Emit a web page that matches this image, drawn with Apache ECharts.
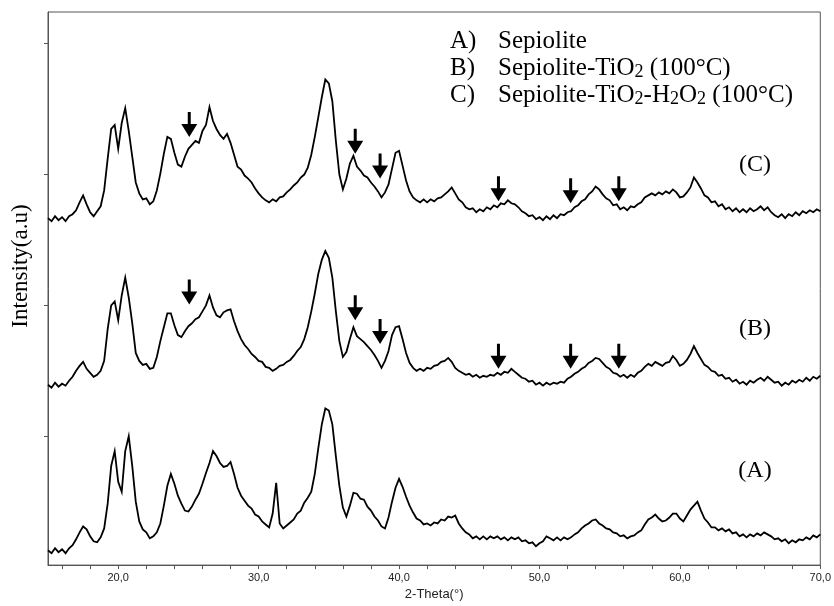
<!DOCTYPE html>
<html>
<head>
<meta charset="utf-8">
<script src="https://cdn.jsdelivr.net/npm/echarts@6/dist/echarts.min.js"></script>
<style>
  html, body { margin: 0; padding: 0; background: #fff; }
  #chart { width: 834px; height: 606px; }
</style>
</head>
<body>
<div id="chart"></div>
<script>
// 2θ scan positions (degrees)
const twoTheta = [
  15,15.25,15.5,15.75,16,16.25,16.5,16.75,
  17,17.25,17.5,17.75,18,18.25,18.5,18.75,
  19,19.25,19.5,19.75,20,20.25,20.5,20.75,
  21,21.25,21.5,21.75,22,22.25,22.5,22.75,
  23,23.25,23.5,23.75,24,24.25,24.5,24.75,
  25,25.25,25.5,25.75,26,26.25,26.5,26.75,
  27,27.25,27.5,27.75,28,28.25,28.5,28.75,
  29,29.25,29.5,29.75,30,30.25,30.5,30.75,
  31,31.25,31.5,31.75,32,32.25,32.5,32.75,
  33,33.25,33.5,33.75,34,34.25,34.5,34.75,
  35,35.25,35.5,35.75,36,36.25,36.5,36.75,
  37,37.25,37.5,37.75,38,38.25,38.5,38.75,
  39,39.25,39.5,39.75,40,40.25,40.5,40.75,
  41,41.25,41.5,41.75,42,42.25,42.5,42.75,
  43,43.25,43.5,43.75,44,44.25,44.5,44.75,
  45,45.25,45.5,45.75,46,46.25,46.5,46.75,
  47,47.25,47.5,47.75,48,48.25,48.5,48.75,
  49,49.25,49.5,49.75,50,50.25,50.5,50.75,
  51,51.25,51.5,51.75,52,52.25,52.5,52.75,
  53,53.25,53.5,53.75,54,54.25,54.5,54.75,
  55,55.25,55.5,55.75,56,56.25,56.5,56.75,
  57,57.25,57.5,57.75,58,58.25,58.5,58.75,
  59,59.25,59.5,59.75,60,60.25,60.5,60.75,
  61,61.25,61.5,61.75,62,62.25,62.5,62.75,
  63,63.25,63.5,63.75,64,64.25,64.5,64.75,
  65,65.25,65.5,65.75,66,66.25,66.5,66.75,
  67,67.25,67.5,67.75,68,68.25,68.5,68.75,
  69,69.25,69.5,69.75,70
];

// (A) Sepiolite, offset trace (a.u.)
const sepiolite = [
  15,12,17,13,16,12,17,20,
  26,33,39,36,29,24,23,28,
  37,62,100,115,84,74,115,130,
  100,64,44,36,33,27,29,33,
  42,60,80,92,82,70,62,55,
  54,59,66,72,82,93,103,115,
  110,103,99,100,104,92,78,70,
  65,60,57,51,49,44,41,38,
  52,83,42,37,40,43,46,52,
  55,63,68,74,92,118,142,158,
  156,142,110,80,58,49,60,73,
  72,67,66,59,55,49,45,39,
  37,48,64,78,87,79,69,60,
  53,47,45,41,42,40,43,42,
  46,45,49,48,50,42,37,33,
  31,27,29,26,29,26,29,27,
  29,26,28,25,28,26,28,24,
  25,22,23,19,22,24,29,27,
  25,28,25,28,26,28,31,33,
  37,40,42,45,46,42,40,37,
  36,33,32,29,30,27,29,30,
  33,35,41,46,48,51,47,44,
  45,48,52,52,47,44,50,56,
  60,64,55,47,43,38,38,35,
  37,34,36,32,33,29,31,28,
  31,29,32,30,33,31,29,26,
  27,24,26,22,25,23,26,25,
  28,26,30,28,31
];

// (B) Sepiolite-TiO2 (100 °C)
const sepioliteTiO2 = [
  182,179,184,180,183,181,186,190,
  196,201,205,198,194,190,192,196,
  206,238,262,266,247,272,290,270,
  244,214,206,202,203,198,199,210,
  226,240,254,254,242,232,230,236,
  241,244,248,250,256,262,272,260,
  252,250,255,257,258,246,236,228,
  222,218,213,210,206,205,200,199,
  196,198,201,202,205,207,211,216,
  220,228,240,256,274,294,308,317,
  310,290,256,226,210,215,228,240,
  231,228,225,221,217,212,206,199,
  206,216,232,240,241,228,214,204,
  199,196,198,196,199,198,201,202,
  205,206,209,205,199,196,194,192,
  193,190,192,189,191,190,192,191,
  194,192,195,194,198,195,192,189,
  188,185,186,182,184,181,184,182,
  184,183,185,184,188,190,193,195,
  198,200,204,206,209,208,204,200,
  198,194,193,190,192,189,192,190,
  194,196,200,203,201,205,203,201,
  204,205,211,207,201,203,207,213,
  221,214,208,202,200,196,195,191,
  192,188,189,185,187,183,185,182,
  186,184,187,189,186,190,187,184,
  185,181,184,182,186,184,187,185,
  189,186,190,188,191
];

// (C) Sepiolite-TiO2-H2O2 (100 °C)
const sepioliteTiO2H2O2 = [
  350,347,352,348,351,347,352,354,
  358,366,373,364,356,352,357,362,
  378,410,440,444,420,446,461,438,
  412,386,375,369,370,364,367,378,
  395,415,432,430,416,404,402,412,
  420,424,428,426,438,444,462,448,
  440,434,430,435,426,414,402,399,
  393,390,386,380,375,371,368,366,
  369,367,371,372,376,379,383,386,
  391,394,401,414,432,452,472,490,
  486,468,428,394,379,390,405,413,
  402,398,393,391,386,382,377,371,
  376,384,400,416,418,403,388,377,
  371,368,366,369,366,369,367,370,
  371,374,377,381,375,369,366,361,
  359,360,356,359,357,361,359,363,
  361,365,364,368,365,364,361,357,
  355,352,353,349,351,348,352,349,
  353,350,354,353,356,357,361,363,
  367,369,374,377,382,379,374,370,
  368,363,364,359,361,358,362,361,
  364,366,371,373,375,373,376,374,
  377,375,379,376,371,372,376,381,
  391,386,380,373,371,366,367,362,
  364,359,361,357,360,356,359,356,
  360,357,359,362,358,361,356,353,
  351,354,350,354,352,356,353,357,
  355,358,356,359,357
];

// Anatase reflections marked with arrows: [2θ, arrow tip intensity]
const arrowsB = [[25.06, 263], [36.88, 247], [38.65, 223], [47.08, 198], [52.22, 198], [55.65, 198]];
const arrowsC = [[25.06, 432], [36.88, 415], [38.65, 390], [47.08, 367], [52.22, 365], [55.65, 367]];

// Axis ticks and labels
const xTickValues = [16,18,20,22,24,26,28,30,32,34,36,38,40,42,44,46,48,50,52,54,56,58,60,62,64,66,68,70];
const xLabelValues = [20, 30, 40, 50, 60, 70];
const yTickValues = [130, 262, 394, 526];

// Legend and trace labels
const legendKeys = ['A)', 'B)', 'C)'];
const legendNames = [
  '{n|Sepiolite}',
  '{n|Sepiolite-TiO}{s|2}{n| (100°C)}',
  '{n|Sepiolite-TiO}{s|2}{n|-H}{s|2}{n|O}{s|2}{n| (100°C)}'
];
const traceLabels = ['(A)', '(B)', '(C)'];

const pairs = (ys) => twoTheta.map((x, i) => [x, ys[i]]);

const serif = '"Liberation Serif", "Times New Roman", serif';
const sans = '"Liberation Sans", Arial, sans-serif';
const frameColor = '#555';
const arrowPath = 'path://M6.5,0L9.5,0L9.5,12L16,12L8,25L0,12L6.5,12Z';

const chart = echarts.init(document.getElementById('chart'), null, { renderer: 'canvas' });

const lineSeries = (name, ys) => ({
  name, type: 'line', data: pairs(ys), showSymbol: false, symbol: 'none',
  lineStyle: { color: '#000', width: 1.8, join: 'miter' }, itemStyle: { color: '#000' },
  silent: true, z: 3
});
const arrowSeries = (name, pts) => ({
  name, type: 'scatter', data: pts, symbol: arrowPath, symbolSize: [16, 25],
  symbolOffset: [0, '-50%'], itemStyle: { color: '#000', opacity: 1 }, silent: true, z: 4
});

const graphics = [];
legendKeys.forEach((k, i) => {
  const y = 41 + i * 27;
  graphics.push({
    type: 'text', x: 450, y: y,
    style: { text: k, font: '25px ' + serif, fill: '#000', verticalAlign: 'middle' }
  });
  graphics.push({
    type: 'text', x: 498, y: y,
    style: {
      text: legendNames[i], fill: '#000', verticalAlign: 'middle',
      rich: {
        n: { fontFamily: serif, fontSize: 25, lineHeight: 27, fill: '#000' },
        s: { fontFamily: serif, fontSize: 18, lineHeight: 16, verticalAlign: 'bottom', fill: '#000' }
      }
    }
  });
});

const traceLabelY = [471, 329, 165];
traceLabels.forEach((t, i) => {
  graphics.push({
    type: 'text', x: 755, y: traceLabelY[i],
    style: { text: t, font: '24px ' + serif, fill: '#000', align: 'center', verticalAlign: 'middle' }
  });
});

graphics.push({
  type: 'text', x: 21, y: 266, rotation: Math.PI / 2,
  style: { text: 'Intensity(a.u)', font: '23px ' + serif, fill: '#000', align: 'center', verticalAlign: 'middle' }
});

chart.setOption({
  animation: false,
  backgroundColor: '#fff',
  grid: { left: 48, right: 10, top: 12, bottom: 36, show: true, borderColor: frameColor, borderWidth: 1 },
  xAxis: {
    type: 'value', min: 15, max: 70,
    axisLine: { show: true, lineStyle: { color: frameColor, width: 1 } },
    axisTick: { show: true, customValues: xTickValues, length: 4, lineStyle: { color: frameColor } },
    axisLabel: {
      show: true, customValues: xLabelValues, margin: 7,
      fontFamily: sans, fontSize: 11, color: '#222',
      formatter: (v) => v.toFixed(1).replace('.', ',')
    },
    splitLine: { show: false },
    name: '2-Theta(°)', nameLocation: 'middle', nameGap: 22,
    nameTextStyle: { fontFamily: sans, fontSize: 13, color: '#222' }
  },
  yAxis: {
    type: 'value', min: 0, max: 558,
    axisLine: { show: true, lineStyle: { color: frameColor, width: 1 } },
    axisTick: { show: true, customValues: yTickValues, length: 4, lineStyle: { color: frameColor } },
    axisLabel: { show: false },
    splitLine: { show: false }
  },
  series: [
    lineSeries('Sepiolite', sepiolite),
    lineSeries('Sepiolite-TiO2', sepioliteTiO2),
    lineSeries('Sepiolite-TiO2-H2O2', sepioliteTiO2H2O2),
    arrowSeries('arrows B', arrowsB),
    arrowSeries('arrows C', arrowsC)
  ],
  graphic: graphics
});
</script>
</body>
</html>
